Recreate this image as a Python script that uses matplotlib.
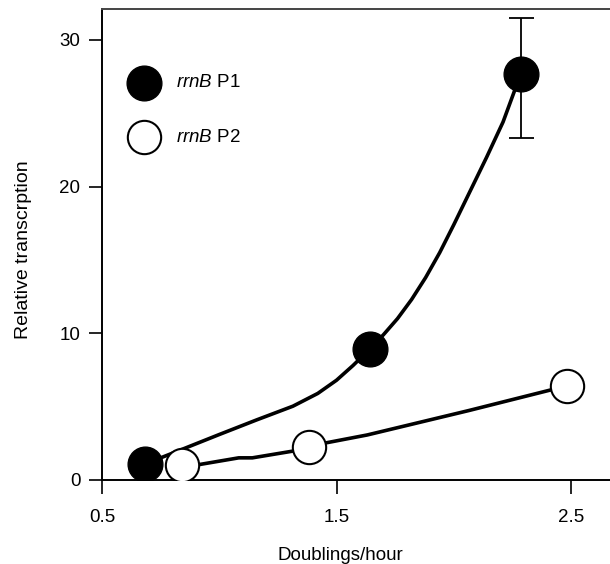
import matplotlib
matplotlib.use("Agg")
import matplotlib.pyplot as plt

plt.rcParams['font.family'] = ['Liberation Sans', 'DejaVu Sans']
plt.rcParams['mathtext.fontset'] = 'custom'
plt.rcParams['mathtext.it'] = 'Liberation Sans:italic'
plt.rcParams['mathtext.rm'] = 'Liberation Sans'

# Measured points
p1_x = [0.684, 1.642, 2.286]
p1_y = [1.09, 8.92, 27.7]
p1_err_lo = [0, 0, 4.4]
p1_err_hi = [0, 0, 3.8]

p2_x = [0.839, 1.383, 2.481]
p2_y = [1.04, 2.26, 6.41]

# Hand-drawn fit curves
p1_curve_x = [0.684, 0.84, 1.0, 1.16, 1.314, 1.42, 1.50, 1.57, 1.642, 1.70, 1.76,
              1.82, 1.88, 1.94, 2.00, 2.07, 2.14, 2.21, 2.286]
p1_curve_y = [1.09, 2.08, 3.1, 4.1, 5.03, 5.9, 6.8, 7.8, 8.92, 9.9, 11.0,
              12.3, 13.8, 15.5, 17.4, 19.7, 22.0, 24.4, 27.7]
p2_curve_x = [0.839, 0.91, 1.083, 1.141, 1.314, 1.383, 1.458, 1.631, 2.063, 2.481]
p2_curve_y = [1.04, 1.04, 1.51, 1.51, 1.97, 2.26, 2.54, 3.07, 4.73, 6.41]

x_ticks = [0.5, 1.5, 2.5]
x_ticklabels = ['0.5', '1.5', '2.5']
y_ticks = [0, 10, 20, 30]
series_labels = [r'$\mathit{rrnB}$ P1', r'$\mathit{rrnB}$ P2']

FS = 13.5

fig = plt.figure(figsize=(6.10, 5.64), dpi=100)
ax = fig.add_axes([102/610, 1 - 480/564, 1 - 102/610, 471/564])

ax.plot(p1_curve_x, p1_curve_y, color='black', lw=2.6, solid_capstyle='round',
        solid_joinstyle='round', zorder=2)
ax.plot(p2_curve_x, p2_curve_y, color='black', lw=2.6, solid_capstyle='round',
        solid_joinstyle='round', zorder=2)

ax.errorbar(p1_x, p1_y, yerr=[p1_err_lo, p1_err_hi], fmt='none', ecolor='black',
            elinewidth=1.3, capsize=9, capthick=1.3, zorder=3)
ax.plot(p1_x, p1_y, 'o', ms=25, mfc='black', mec='black', mew=1, ls='none', zorder=4)
ax.plot(p2_x, p2_y, 'o', ms=24, mfc='white', mec='black', mew=1.5, ls='none', zorder=4)

# legend (manual)
ax.plot([0.0827], [0.843], 'o', ms=25, mfc='black', mec='black', transform=ax.transAxes, clip_on=False)
ax.plot([0.0827], [0.728], 'o', ms=24, mfc='white', mec='black', mew=1.5, transform=ax.transAxes, clip_on=False)
ax.text(0.146, 0.843, series_labels[0], transform=ax.transAxes, fontsize=FS, va='center', ha='left')
ax.text(0.146, 0.728, series_labels[1], transform=ax.transAxes, fontsize=FS, va='center', ha='left')

ax.set_xlim(0.5, 2.666)
ax.set_ylim(0, 32.1)
ax.set_xticks(x_ticks)
ax.set_xticklabels(x_ticklabels)
ax.set_yticks(y_ticks)

ax.spines['right'].set_visible(False)
ax.spines['top'].set_color('#444444')
for s in ['left', 'bottom', 'top']:
    ax.spines[s].set_linewidth(1.4)
ax.spines['left'].set_color('black')
ax.spines['bottom'].set_color('black')

ax.tick_params(axis='x', direction='out', length=10, width=1.2, pad=11, labelsize=FS)
ax.tick_params(axis='y', direction='out', length=9.5, width=1.2, pad=6, labelsize=FS)

ax.set_xlabel('Doublings/hour', fontsize=FS)
ax.set_ylabel('Relative transcrption', fontsize=FS + 0.5)
ax.xaxis.set_label_coords((340 - 102) / 508, -(555 - 480) / 471)
ax.yaxis.set_label_coords(-(102 - 24) / 508, (480 - 250) / 471)
ax.xaxis.label.set_va('center')
ax.yaxis.label.set_va('center')

fig.savefig('out.png', dpi=100)
